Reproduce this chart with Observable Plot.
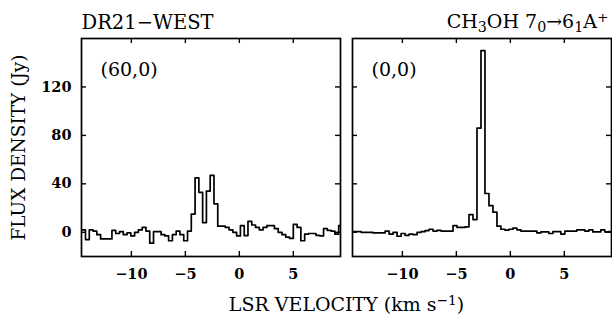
<!DOCTYPE html>
<html>
<head>
<meta charset="utf-8">
<script src="https://cdn.jsdelivr.net/npm/d3@7"></script>
<script src="https://cdn.jsdelivr.net/npm/@observablehq/plot@0.6"></script>
<style>
  html, body { margin: 0; padding: 0; background: #fff; }
  #chart { width: 612px; height: 318px; }
</style>
</head>
<body>
<div id="chart"></div>
<script>
// ---- data ----
const panels = ["L", "R"];
const positionLabels = ["(60,0)", "(0,0)"];
const xTicks = [-10, -5, 0, 5];
const yTicks = [0, 40, 80, 120];
const leftTitle = "DR21\u2212WEST";
// right title pieces: [text, kind]
const rightTitleParts = [["CH", ""], ["3", "sub"], ["OH 7", ""], ["0", "sub"], ["\u21926", ""], ["1", "sub"], ["A", ""], ["+", "sup"]];
const yLabel = "FLUX DENSITY (Jy)";
const xLabelParts = [["LSR VELOCITY (km s", ""], ["\u22121", "sup"], [")", ""]];

// left panel: DR21-WEST (60,0) — channel left edges (km/s) and flux (Jy)
const leftVelocity = [-14.60, -14.25, -13.90, -13.55, -13.20, -12.85, -12.50, -12.15, -11.80, -11.45,
  -11.10, -10.75, -10.40, -10.05, -9.70, -9.35, -9.00, -8.65, -8.30, -7.95,
  -7.60, -7.25, -6.90, -6.55, -6.20, -5.85, -5.50, -5.15, -4.80, -4.45,
  -4.10, -3.75, -3.40, -3.05, -2.70, -2.35, -2.00, -1.65, -1.30, -0.95,
  -0.60, -0.25, 0.10, 0.45, 0.80, 1.15, 1.50, 1.85, 2.20, 2.55,
  2.90, 3.25, 3.60, 3.95, 4.30, 4.65, 5.00, 5.35, 5.70, 6.05,
  6.40, 6.75, 7.10, 7.45, 7.80, 8.15, 8.50, 8.85, 9.20, 9.55];
const leftFlux = [2, -6, 2, 1, -2, -5.5, -5.5, -5.5, 1.5, -1,
  0.5, -2, -0.5, -3, 0, 2, 4, 1, -9, 0.5,
  0.5, -2, -3, -7, -2, 1, -2, -7, 1, 15,
  45, 33, 8, 34, 47, 23.5, 5, 5, 4, 2,
  0, -3, 5.5, -2.7, 9, 6, 4, 2, 4, 5.5,
  5.5, 3, 0, -2, -4, -5, 6.5, 4, -7, -1.5,
  -1, -1, -2.5, -3, 3, 1.5, 1, -1.5, 5.5];

// right panel: (0,0) — channel left edges (km/s) and flux (Jy)
const rightVelocity = [-14.93, -14.56, -14.19, -13.82, -13.45, -13.08, -12.71, -12.34, -11.97, -11.60,
  -11.23, -10.86, -10.49, -10.12, -9.75, -9.38, -9.01, -8.64, -8.27, -7.90,
  -7.53, -7.16, -6.79, -6.42, -6.05, -5.68, -5.31, -4.94, -4.57, -4.20,
  -3.83, -3.46, -3.09, -2.72, -2.35, -1.98, -1.61, -1.24, -0.87, -0.50,
  -0.13, 0.24, 0.61, 0.98, 1.35, 1.72, 2.09, 2.46, 2.83, 3.20,
  3.57, 3.94, 4.31, 4.68, 5.05, 5.42, 5.79, 6.16, 6.53, 6.90,
  7.27, 7.64, 8.01, 8.38, 8.75, 9.12, 9.49];
const rightFlux = [0.5, 0.5, 0.5, 0, 0, 0, -0.5, -0.5, -0.5, 1,
  -1.5, 0, -3.3, -1, -2.5, -1.5, -2, 0, 0.5, 1.4,
  2.5, 1, 1.5, 1, 1, 1, 5.5, 4, 4, 4.5,
  14.6, 10.5, 86, 150, 32, 22, 16.6, 5, 2.5, 1.8,
  2.5, 3.5, 2, 1, 1, 1, 1, -0.5, 0.3, 0.3,
  -1, 0.5, 0.5, -1.5, 1, 1, 1, 2, 2, 1,
  2, 0.3, 0.3, 2, 0.3, 0.5];

// ---- build tables for Plot ----
function stepTable(panel, edges, flux) {
  const rows = flux.map((F, i) => ({panel, v: edges[i], F}));
  rows.push({panel, v: edges[flux.length], F: flux[flux.length - 1]});
  return rows;
}
const spectrum = [
  ...stepTable("L", leftVelocity, leftFlux),
  ...stepTable("R", rightVelocity, rightFlux)
];
const posTable = panels.map((p, i) => ({panel: p, label: positionLabels[i]}));
const joinParts = parts => parts.map(d => d[0]).join("");

const W = 612, H = 318, mt = 38, mb = 62, ml = 81, mr = 1;
const plotH = H - mt - mb;
const gap = 12;
const panelW = ((W - ml - mr) - gap) / 2;
const tick = 5;

const chart = Plot.plot({
  width: W, height: H,
  marginTop: mt, marginBottom: mb, marginLeft: ml, marginRight: mr,
  style: {fontFamily: "DejaVu Serif", fontSize: "14px", background: "#fff", color: "#000", overflow: "visible"},
  fx: {domain: panels, paddingInner: gap / (panelW + gap), paddingOuter: 0, axis: null, label: null},
  x: {domain: [-14.62, 9.37], label: null},
  y: {domain: [-20, 160], label: null},
  marks: [
    Plot.frame({strokeWidth: 1.7}),
    Plot.ruleX(xTicks, {insetTop: plotH - tick, strokeWidth: 1.4}),
    Plot.ruleX(xTicks, {insetBottom: plotH - tick, strokeWidth: 1.4}),
    Plot.ruleY(yTicks, {insetRight: panelW - tick, strokeWidth: 1.4}),
    Plot.ruleY(yTicks, {insetLeft: panelW - tick, strokeWidth: 1.4}),
    Plot.axisX(xTicks, {tickSize: 0, tickPadding: 12, label: null, fontWeight: "bold", fontSize: 14.5}),
    Plot.axisY(yTicks, {tickSize: 0, tickPadding: 10, label: null, fontWeight: "bold", fontSize: 14.5}),
    Plot.line(spectrum, {x: "v", y: "F", z: "panel", fx: "panel", curve: "step-after", strokeWidth: 1.7, clip: true}),
    Plot.text(posTable, {fx: "panel", text: "label", frameAnchor: "top-left", dx: 19, dy: 31.5, lineAnchor: "middle", textAnchor: "start", fontSize: 19}),
    Plot.text([{panel: "L", t: leftTitle}], {fx: "panel", text: "t", frameAnchor: "top-left", dy: -16, lineAnchor: "middle", textAnchor: "start", fontSize: 19.5}),
    Plot.text([{panel: "R", t: joinParts(rightTitleParts)}], {fx: "panel", text: "t", frameAnchor: "top-right", dx: -3, dy: -17, lineAnchor: "middle", textAnchor: "end", fontSize: 19}),
    Plot.text([{panel: "L", t: yLabel}], {fx: "panel", text: "t", frameAnchor: "left", dx: -62, rotate: -90, textAnchor: "middle", lineAnchor: "middle", fontSize: 18.5}),
    Plot.text([{panel: "R", t: joinParts(xLabelParts)}], {fx: "panel", text: "t", frameAnchor: "bottom-left", dx: -6, dy: 48, lineAnchor: "middle", textAnchor: "middle", fontSize: 19})
  ]
});
document.getElementById("chart").appendChild(chart);

// render sub/superscripts as real tspans
function rich(parts) {
  const full = joinParts(parts);
  d3.select(chart).selectAll("text").filter(function () { return this.textContent === full; })
    .each(function () {
      const t = d3.select(this);
      t.text(null);
      parts.forEach(([s, kind]) => {
        const ts = t.append("tspan").text(s);
        if (kind === "sub") ts.attr("baseline-shift", "-25%").attr("font-size", "75%");
        if (kind === "sup") ts.attr("baseline-shift", "40%").attr("font-size", "72%");
      });
    });
}
rich(rightTitleParts);
rich(xLabelParts);
</script>
</body>
</html>
